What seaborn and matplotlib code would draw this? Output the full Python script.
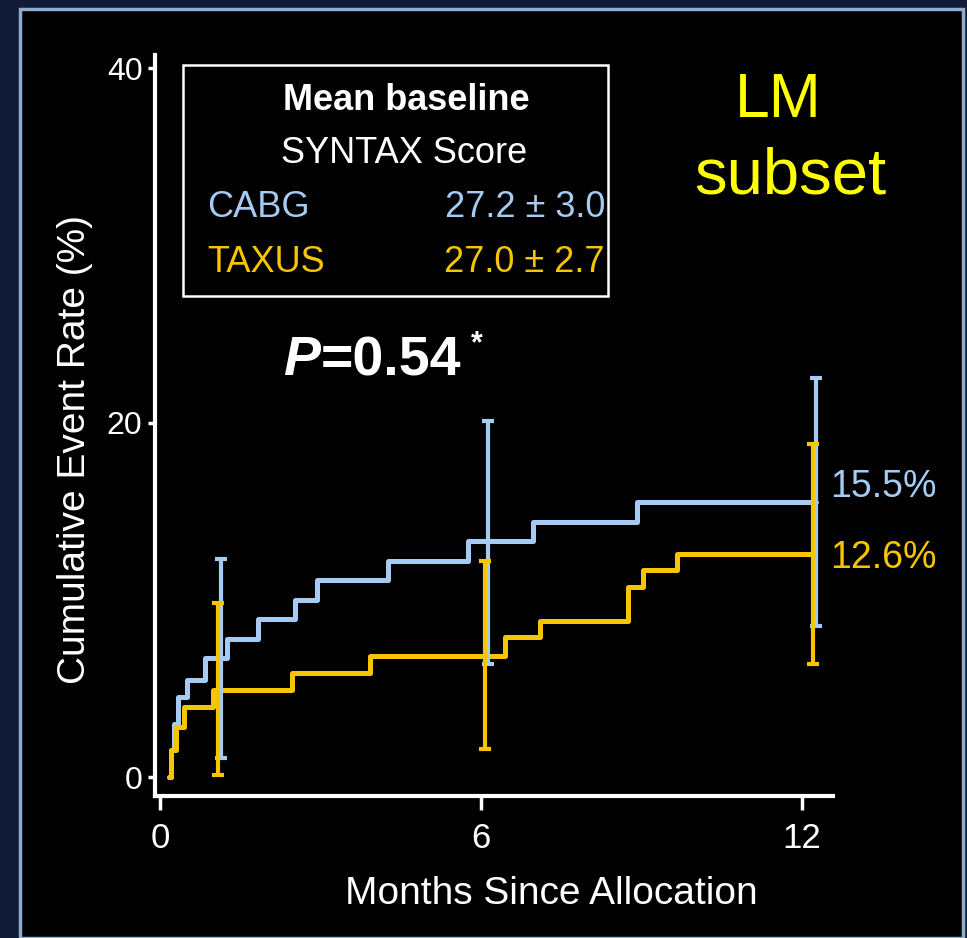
import matplotlib
matplotlib.use("Agg")
import matplotlib.pyplot as plt
import seaborn as sns
import pandas as pd
from matplotlib.patches import Rectangle

# ---------------- data ----------------
arms = ["CABG", "TAXUS"]
months_cabg = [0.17, 0.20, 0.26, 0.34, 0.50, 0.84, 1.25, 1.84, 2.52, 2.93, 4.27, 5.76, 6.98, 8.91, 12.27]
rate_cabg = [0.0, 1.5, 3.0, 4.5, 5.5, 6.7, 7.8, 8.9, 10.0, 11.1, 12.2, 13.3, 14.4, 15.5, 15.5]
months_taxus = [0.17, 0.20, 0.30, 0.45, 1.00, 2.46, 3.93, 6.45, 7.10, 8.75, 9.03, 9.66, 12.21]
rate_taxus = [0.0, 1.5, 2.8, 3.95, 4.9, 5.9, 6.85, 7.9, 8.8, 10.7, 11.7, 12.6, 12.6]

ci_month_cabg = [1.15, 6.14, 12.27]
ci_est_cabg = [6.7, 13.3, 15.5]
ci_low_cabg = [1.05, 6.4, 8.5]
ci_high_cabg = [12.3, 20.1, 22.5]
ci_month_taxus = [1.09, 6.07, 12.21]
ci_est_taxus = [4.9, 6.85, 12.6]
ci_low_taxus = [0.1, 1.6, 6.4]
ci_high_taxus = [9.85, 12.2, 18.8]

final_labels = ["15.5%", "12.6%"]
syntax_means = ["27.2 \u00b1 3.0", "27.0 \u00b1 2.7"]
x_ticks = [0, 6, 12]
y_ticks = [0, 20, 40]
p_value_text = "=0.54"

# ---------------- style ----------------
BLUE = "#a6cbf2"
GOLD = "#f7c500"
YELLOW = "#ffff00"
BG = "#111b38"

sns.set_style("ticks")
plt.rcParams["font.family"] = ["Liberation Sans", "DejaVu Sans"]

W, H = 967, 938
fig = plt.figure(figsize=(W / 100, H / 100), dpi=100, facecolor=BG)


def fx(px):
    return px / W


def fy(py):
    return 1 - py / H


# slide frame
fig.add_artist(Rectangle((fx(20), 0), fx(963) - fx(20), fy(9), transform=fig.transFigure,
                         facecolor="black", edgecolor="#8eaccb", lw=2.5, zorder=0))

ax = fig.add_axes([fx(155), fy(796), fx(833) - fx(155), fy(55) - fy(796)])
ax.set_facecolor("none")

df = pd.DataFrame({
    "month": months_cabg + months_taxus,
    "rate": rate_cabg + rate_taxus,
    "arm": [arms[0]] * len(months_cabg) + [arms[1]] * len(months_taxus),
})
sns.lineplot(data=df, x="month", y="rate", hue="arm", palette={arms[0]: BLUE, arms[1]: GOLD},
             drawstyle="steps-post", estimator=None, sort=False, legend=False, lw=3.6, ax=ax)

for xs, est, lo, hi, col in [(ci_month_cabg, ci_est_cabg, ci_low_cabg, ci_high_cabg, BLUE),
                             (ci_month_taxus, ci_est_taxus, ci_low_taxus, ci_high_taxus, GOLD)]:
    yerr = [[e - l for e, l in zip(est, lo)], [h - e for e, h in zip(est, hi)]]
    ax.errorbar(xs, est, yerr=yerr, fmt="none", ecolor=col, elinewidth=3, capsize=4.5, capthick=3, zorder=3)

ax.set_xlim(-0.093, 12.58)
ax.set_ylim(-1.07, 40.75)
ax.set_xticks(x_ticks)
ax.set_yticks(y_ticks)
for s in ["top", "right"]:
    ax.spines[s].set_visible(False)
for s in ["left", "bottom"]:
    ax.spines[s].set_color("white")
    ax.spines[s].set_linewidth(3)
ax.tick_params(axis="x", colors="white", length=10, width=2.5, labelsize=25, pad=9)
ax.tick_params(axis="y", colors="white", length=5, width=2.5, labelsize=23, pad=4)
ax.set_xlabel("Months Since Allocation", color="white", fontsize=28)
ax.set_ylabel("Cumulative Event Rate (%)", color="white", fontsize=28)
ax.xaxis.set_label_coords(0.584, -0.108)
ax.yaxis.set_label_coords(-0.092, 0.468)

# end labels
ax.text(12.52, 15.8, final_labels[0], color=BLUE, fontsize=27, va="baseline", ha="left", clip_on=False)
ax.text(12.52, 11.8, final_labels[1], color=GOLD, fontsize=27, va="baseline", ha="left", clip_on=False)

# SYNTAX box
fig.add_artist(Rectangle((fx(183), fy(296)), fx(608) - fx(183), fy(65) - fy(296), transform=fig.transFigure,
                         facecolor="none", edgecolor="white", lw=1.8, zorder=5))
fig.text(fx(406), fy(110), "Mean baseline", color="white", fontsize=26, fontweight="bold",
         ha="center", va="baseline")
fig.text(fx(404), fy(163), "SYNTAX Score", color="white", fontsize=26,
         ha="center", va="baseline")
fig.text(fx(207), fy(217), arms[0], color=BLUE, fontsize=26, ha="left", va="baseline")
fig.text(fx(605), fy(217), syntax_means[0], color=BLUE, fontsize=26, ha="right", va="baseline")
fig.text(fx(207), fy(272), arms[1], color=GOLD, fontsize=26, ha="left", va="baseline")
fig.text(fx(605), fy(272), syntax_means[1], color=GOLD, fontsize=26, ha="right", va="baseline")

# LM subset
fig.text(fx(778), fy(117), "LM", color=YELLOW, fontsize=45, ha="center", va="baseline")
fig.text(fx(790), fy(193), "subset", color=YELLOW, fontsize=47, ha="center", va="baseline")

# P value
fig.text(fx(283), fy(375), "P", color="white", fontsize=40, fontweight="bold", style="italic",
         ha="left", va="baseline")
fig.text(fx(321), fy(375), p_value_text, color="white", fontsize=40, fontweight="bold",
         ha="left", va="baseline")
fig.text(fx(471), fy(352), "*", color="white", fontsize=22, fontweight="bold", ha="left", va="baseline")

fig.savefig("out.png", dpi=100, facecolor=fig.get_facecolor())
